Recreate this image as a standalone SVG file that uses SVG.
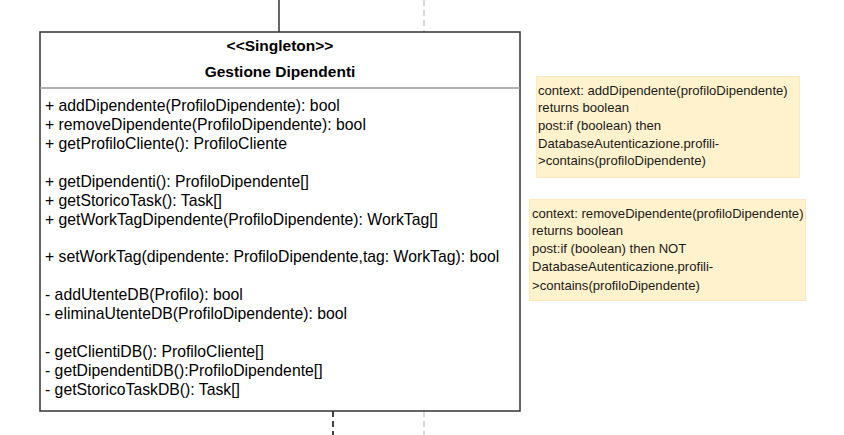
<svg xmlns="http://www.w3.org/2000/svg" width="844" height="435" viewBox="0 0 844 435">
<style>
.m{font-family:"Liberation Sans",Arial,sans-serif;font-size:15.75px;fill:#000}
.h{font-family:"Liberation Sans",Arial,sans-serif;font-size:15.5px;font-weight:bold;fill:#000;text-anchor:middle}
.n{font-family:"Liberation Sans",Arial,sans-serif;font-size:13.1px;fill:#1a1a1a}
.note{fill:#fff2cc;stroke:#fde7bd;stroke-width:1}
</style>
<rect width="844" height="435" fill="#fff"/>
<g id="connectors">
<line x1="279" y1="0" x2="279" y2="32" stroke="#333" stroke-width="1.5"/>
<line x1="424" y1="0" x2="424" y2="32" stroke="#ccc" stroke-width="1.5" stroke-dasharray="6 4"/>
<line x1="333" y1="411" x2="333" y2="435" stroke="#000" stroke-width="1.5" stroke-dasharray="6 4"/>
<line x1="424" y1="411" x2="424" y2="435" stroke="#ccc" stroke-width="1.5" stroke-dasharray="6 4"/>
</g>
<g id="gestione-dipendenti">
<rect x="40" y="32" width="480" height="379" fill="#fff" stroke="#333" stroke-width="1.5"/>
<line x1="40" y1="88" x2="520" y2="88" stroke="#999" stroke-width="1.5"/>
<text class="h" x="280" y="50.5">&lt;&lt;Singleton&gt;&gt;</text>
<text class="h" x="280" y="77">Gestione Dipendenti</text>
<text class="m" x="45" y="110.5">+ addDipendente(ProfiloDipendente): bool</text>
<text class="m" x="45" y="129.5">+ removeDipendente(ProfiloDipendente): bool</text>
<text class="m" x="45" y="148.5">+ getProfiloCliente(): ProfiloCliente</text>
<text class="m" x="45" y="186.5">+ getDipendenti(): ProfiloDipendente[]</text>
<text class="m" x="45" y="205.5">+ getStoricoTask(): Task[]</text>
<text class="m" x="45" y="224.5">+ getWorkTagDipendente(ProfiloDipendente): WorkTag[]</text>
<text class="m" x="45" y="261.5">+ setWorkTag(dipendente: ProfiloDipendente,tag: WorkTag): bool</text>
<text class="m" x="45" y="299.5">- addUtenteDB(Profilo): bool</text>
<text class="m" x="45" y="318.5">- eliminaUtenteDB(ProfiloDipendente): bool</text>
<text class="m" x="45" y="356.5">- getClientiDB(): ProfiloCliente[]</text>
<text class="m" x="45" y="375.5">- getDipendentiDB():ProfiloDipendente[]</text>
<text class="m" x="45" y="394.5">- getStoricoTaskDB(): Task[]</text>
</g>
<g id="note-add">
<rect class="note" x="536.5" y="76.5" width="263" height="101"/>
<text class="n" x="538" y="95">context: addDipendente(profiloDipendente)</text>
<text class="n" x="538" y="112">returns boolean</text>
<text class="n" x="538" y="130">post:if (boolean) then</text>
<text class="n" x="538" y="147.5">DatabaseAutenticazione.profili-</text>
<text class="n" x="538" y="165">&gt;contains(profiloDipendente)</text>
</g>
<g id="note-remove">
<rect class="note" x="529.5" y="199.5" width="276" height="101"/>
<text class="n" x="532" y="218">context: removeDipendente(profiloDipendente)</text>
<text class="n" x="532" y="235">returns boolean</text>
<text class="n" x="532" y="253">post:if (boolean) then NOT</text>
<text class="n" x="532" y="271">DatabaseAutenticazione.profili-</text>
<text class="n" x="532" y="289.5">&gt;contains(profiloDipendente)</text>
</g>
</svg>
